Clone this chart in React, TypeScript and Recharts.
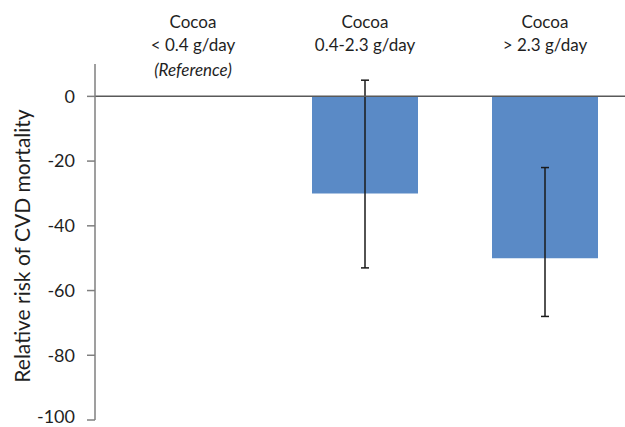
import { BarChart, Bar, XAxis, YAxis, ReferenceLine, ErrorBar } from 'recharts';

// category labels (multi-line), drawn above the plot
const groups = ['< 0.4 g/day', '0.4-2.3 g/day', '> 2.3 g/day'];
const notes = ['(Reference)', '', ''];
const risk = [0, -30, -50];
const ciLow = [null, -53, -68];
const ciHigh = [null, 5, -22];
const yTicks = [0, -20, -40, -60, -80, -100];

const data = groups.map((g, i) => ({
    name: g,
    risk: risk[i],
    err: ciLow[i] == null ? null : [risk[i] - (ciLow[i] as number), (ciHigh[i] as number) - risk[i]],
}));

const FONT = 'Lato, "Open Sans", sans-serif';
const INK = '#1f1f1f';

function TopTick(props: any) {
    const { x, payload, index } = props;
    const cx = x + (index === 0 ? 8 : 0);
    return (
        <g fontFamily={FONT} fontSize={17} fill={INK} textAnchor="middle">
            <text x={cx} y={28}>Cocoa</text>
            <text x={cx} y={51}>{payload.value}</text>
            {notes[index] ? <text x={cx} y={76} fontStyle="italic">{notes[index]}</text> : null}
        </g>
    );
}

export default function App() {
    return (
        <div style={{ position: 'absolute', left: 0, top: 0, width: 625, height: 427, overflow: 'hidden', background: '#fff' }}>
            <BarChart
                width={640}
                height={427}
                data={data}
                margin={{ top: 0, right: 5, bottom: 7, left: 0 }}
                barSize={106}
            >
                <XAxis
                    dataKey="name"
                    orientation="top"
                    height={64}
                    axisLine={false}
                    tickLine={false}
                    tick={<TopTick />}
                    interval={0}
                />
                <YAxis
                    width={95}
                    domain={[-100, 10]}
                    ticks={yTicks}
                    allowDataOverflow
                    axisLine={{ stroke: '#7f7f7f', strokeWidth: 1.5 }}
                    tickLine={{ stroke: '#7f7f7f', strokeWidth: 1.5 }}
                    tickSize={8}
                    tickMargin={12}
                    tick={{ fill: INK, fontSize: 18, fontFamily: FONT }}
                    label={{
                        value: 'Relative risk of CVD mortality',
                        angle: -90,
                        position: 'center',
                        dx: -25,
                        dy: 4,
                        style: { fill: INK, fontSize: 21, fontFamily: FONT, textAnchor: 'middle' },
                    }}
                />
                <Bar dataKey="risk" fill="#5a8ac6" isAnimationActive={false}>
                    <ErrorBar dataKey="err" width={4} stroke="#1a1a1a" strokeWidth={1.5} />
                </Bar>
                <ReferenceLine y={0} stroke="#595959" strokeWidth={1.5} />
            </BarChart>
        </div>
    );
}
